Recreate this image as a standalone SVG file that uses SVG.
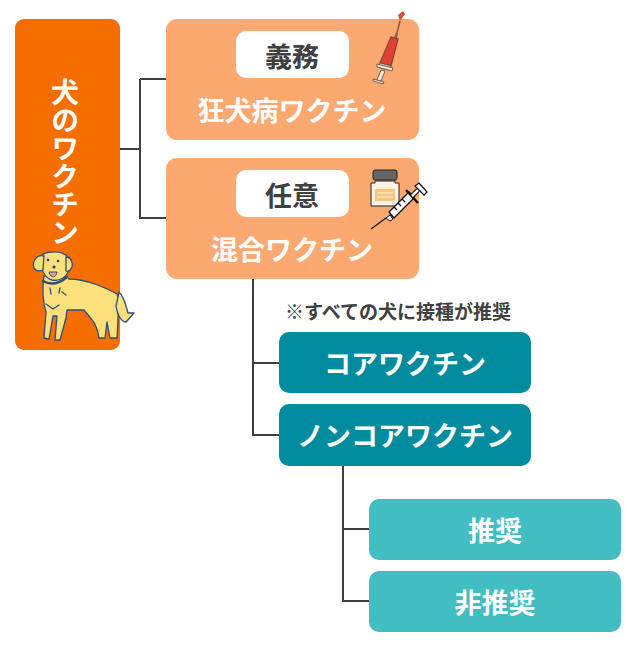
<svg xmlns="http://www.w3.org/2000/svg" width="640" height="650" viewBox="0 0 640 650">
<style>
text{font-family:"Noto Sans CJK JP","Noto Sans",sans-serif;font-weight:700;text-anchor:middle}
.w{fill:#fff}
.k{fill:#404040}
.or{fill:#fba871}
.tl{fill:#008c9e}
.lt{fill:#42bdc2}
.ln{fill:none;stroke:#404040;stroke-width:2}
.d{stroke:#2c4f78;stroke-width:1.3;stroke-linejoin:round;stroke-linecap:round}
</style>
<rect width="640" height="650" fill="#fff"/>
<g id="connectors">
<path class="ln" d="M120 149H140M140 79H166M140 79V218H166"/>
<path class="ln" d="M253 279V435H279M253 363H279"/>
<path class="ln" d="M343 466V601H369M343 529H369"/>
</g>
<g id="n-root">
<rect x="15" y="19" width="105" height="331" rx="9" fill="#f66d00"/>
<text x="65" y="78" class="w" font-size="28" style="writing-mode:vertical-rl;text-anchor:start">犬のワクチン</text>
<g id="dog">
<path class="d" fill="#fce07c" d="M117 294C110 290 88 279 69 279L66 276 44 276C42 290 42 300 46 312L44 338 49 339 53 316 57 316 55 340 60 340 66 318 67 310 84 310C90 318 97 322 99 338L105 338 107 322 110 338 117 338C118 325 118 310 119 300Z"/>
<path class="d" fill="#fce07c" d="M119 292C124 296 126 306 128 313L134 313 126 322C120 322 117 312 116 306Z"/>
<path class="d" fill="#fce07c" d="M42 268C36 258 42 252 52 252C62 251 70 256 71 262L68 272C65 279 58 281 52 280C47 279 43 274 42 268Z"/>
<path class="d" fill="#fce07c" d="M44 256C36 254 32 262 34 268C36 272 40 271 43 270Z"/>
<path class="d" fill="#fce07c" d="M66 257C71 257 73 263 72 267C70 271 68 272 66 271Z"/>
<path d="M43 281C50 285 58 284 66 278" fill="none" stroke="#2c4f78" stroke-width="2.4" stroke-linecap="round"/>
<path d="M49 272C51 279 56 278 57 272Z" fill="#f19a8c" stroke="#2c4f78" stroke-width="1"/>
<circle cx="48" cy="260" r="1.2" fill="#1f3550"/><circle cx="58" cy="261" r="1.2" fill="#1f3550"/>
<circle cx="54" cy="267" r="1.5" fill="#1f3550"/>
<path d="M50 288l1 6M60 288l-1 5M46 304l7 5 6-4M62 292l4 3" class="d" fill="none"/>
</g>
</g>
<g id="n-gimu">
<rect x="166" y="19" width="253" height="121" rx="11" class="or"/>
<rect x="236" y="31" width="113" height="47" rx="10" fill="#fff"/>
<text x="292" y="67" font-size="27" class="k">義務</text>
<text x="292" y="121" font-size="27" class="w">狂犬病ワクチン</text>
<g id="syringe1">
<path d="M400 21L398 15 403 11 405 14Z" fill="#d9512f"/>
<path d="M400 21L397 33" stroke="#8a5a44" stroke-width="1.6" fill="none"/>
<path d="M397 33L395 39" stroke="#8a5a44" stroke-width="2.5"/>
<path d="M392 33L399 35 392 62 381 59Z" fill="#e53f33" stroke="#8a4a30" stroke-width="1.4" transform="translate(-1 4)"/>
<path d="M380 63L391 66 388 70 378 67Z" fill="#f3ede2" stroke="#7a5a48" stroke-width="1"/>
<path d="M377 64L393 68 392 71 377 67Z" fill="#f3ede2" stroke="#7a5a48" stroke-width="1"/>
<path d="M381 70L385 71 381 81 377 80Z" fill="#f3ede2" stroke="#7a5a48" stroke-width="1"/>
<path d="M373 79L384 82 383 84 373 81Z" fill="#f3ede2" stroke="#7a5a48" stroke-width="1"/>
</g>
</g>
<g id="n-nini">
<rect x="166" y="158" width="253" height="121" rx="11" class="or"/>
<rect x="236" y="170" width="113" height="47" rx="10" fill="#fff"/>
<text x="292" y="206" font-size="27" class="k">任意</text>
<text x="292" y="260" font-size="27" class="w">混合ワクチン</text>
<g id="vial">
<rect x="373" y="170" width="24" height="10" rx="2" fill="#666" stroke="#222" stroke-width="1"/>
<path d="M375 181H395V183H399V206H371V183H375Z" fill="#fdf3e4" stroke="#222" stroke-width="1"/>
<rect x="375" y="189" width="20" height="12" fill="#f8c57e"/>
<path d="M377 193H393M377 197H393" stroke="#fdf3e4" stroke-width="1"/>
</g>
<g id="syringe2" stroke="#111" fill="#fff" stroke-linejoin="round">
<path d="M371 229L386 218" fill="none" stroke-width="1.2"/>
<path d="M386 218L390 215 393 219 390 221Z" stroke-width="1"/>
<path d="M389 212L409 192 414 198 394 218Z" stroke-width="1.4"/>
<path d="M406 190L418 203" stroke-width="2.5" fill="none"/>
<path d="M412 196L418 190" stroke-width="5" fill="none"/>
<path d="M412 196L418 190" stroke="#fff" stroke-width="2.5" fill="none"/>
<path d="M415 186L424 195 427 192 419 183Z" stroke-width="1.2"/>
<path d="M394 207l3 3M398 203l3 3M402 199l3 3" stroke-width="1.4" fill="none"/>
</g>
</g>
<g id="n-note"><text x="398" y="319" font-size="19" class="k">※すべての犬に接種が推奨</text></g>
<g id="n-core">
<rect x="279" y="332" width="252" height="61" rx="10" class="tl"/>
<text x="405" y="374" font-size="27" class="w">コアワクチン</text>
</g>
<g id="n-noncore">
<rect x="279" y="404" width="252" height="62" rx="10" class="tl"/>
<text x="405" y="446" font-size="27" class="w">ノンコアワクチン</text>
</g>
<g id="n-rec">
<rect x="369" y="499" width="252" height="61" rx="10" class="lt"/>
<text x="495" y="541" font-size="27" class="w">推奨</text>
</g>
<g id="n-nonrec">
<rect x="369" y="571" width="252" height="61" rx="10" class="lt"/>
<text x="495" y="613" font-size="27" class="w">非推奨</text>
</g>
</svg>
